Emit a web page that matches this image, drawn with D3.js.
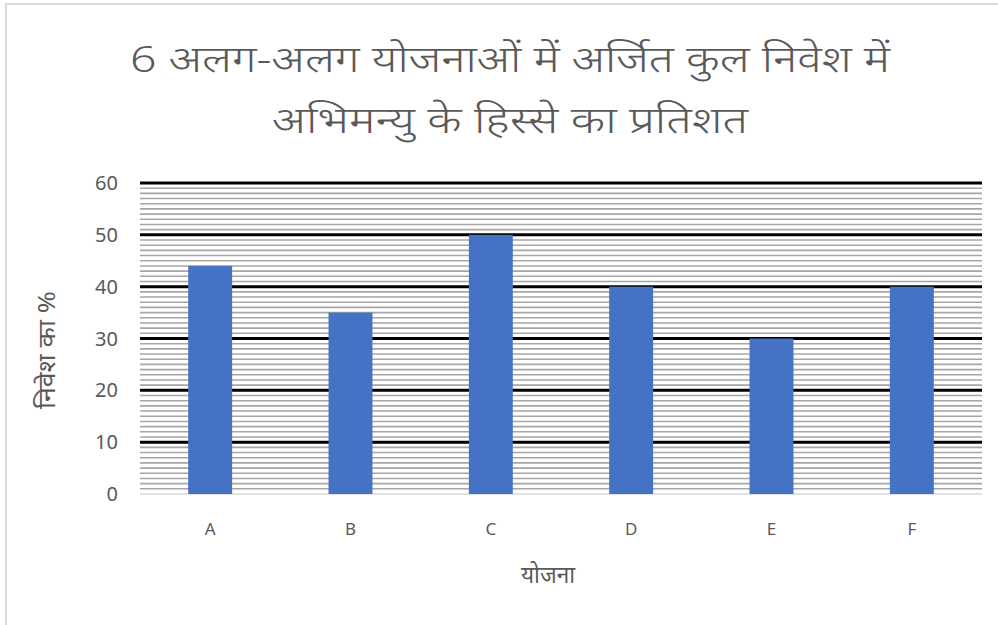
<!DOCTYPE html>
<html><head><meta charset="utf-8">
<script src="https://cdn.jsdelivr.net/npm/d3@7"></script>
<style>body{margin:0;background:#fff;} svg{display:block;}</style>
</head><body>
<script>
const categories = ["A","B","C","D","E","F"];
const values = [44,35,50,40,30,40];
const yTicks = [0,10,20,30,40,50,60];
const titleLines = ["6 अलग-अलग योजनाओं में अर्जित कुल निवेश में","अभिमन्यु के हिस्से का प्रतिशत"];
const xTitle = "योजना";
const yTitle = "निवेश का %";

const W=998,H=625;
const svg=d3.select("body").append("svg").attr("width",W).attr("height",H);
svg.append("rect").attr("x",6).attr("y",4).attr("width",W).attr("height",H).attr("fill","#fff").attr("stroke","#d9d9d9").attr("stroke-width",2);

const m={left:140,right:982,top:183,bottom:494};
const x=d3.scaleBand().domain(categories).range([m.left,m.right]).paddingInner(0.687).paddingOuter(0.3435);
const y=d3.scaleLinear().domain([0,60]).range([m.bottom,m.top]);

// minor gridlines
const minor=d3.range(1,60).filter(v=>v%10!==0);
svg.append("g").selectAll("line").data(minor).join("line")
  .attr("x1",m.left).attr("x2",m.right).attr("y1",d=>y(d)).attr("y2",d=>y(d))
  .attr("stroke","#a6a6a6").attr("stroke-width",1.6);
// major
svg.append("g").selectAll("line").data(yTicks.filter(d=>d>0)).join("line")
  .attr("x1",m.left).attr("x2",m.right).attr("y1",d=>y(d)).attr("y2",d=>y(d))
  .attr("stroke","#000").attr("stroke-width",3);
svg.append("line").attr("x1",m.left).attr("x2",m.right).attr("y1",y(0)).attr("y2",y(0)).attr("stroke","#d9d9d9").attr("stroke-width",1.5);

// bars
svg.append("g").selectAll("rect").data(categories).join("rect")
  .attr("x",d=>x(d)).attr("width",x.bandwidth())
  .attr("y",(d,i)=>y(values[i])).attr("height",(d,i)=>y(0)-y(values[i]))
  .attr("fill","#4472C4");

const font="'Noto Sans','Open Sans',sans-serif";
// y ticks
svg.append("g").selectAll("text").data(yTicks).join("text")
  .attr("x",118).attr("y",d=>y(d)).attr("dy","0.35em").attr("text-anchor","end")
  .attr("font-family",font).attr("font-size",20).attr("fill","#595959").text(d=>d);
// x labels
svg.append("g").selectAll("text").data(categories).join("text")
  .attr("x",d=>x(d)+x.bandwidth()/2).attr("y",535).attr("text-anchor","middle")
  .attr("font-family",font).attr("font-size",17).attr("fill","#595959").text(d=>d);

// titles
const tl=[{t:titleLines[0],y:72,w:760},{t:titleLines[1],y:133,w:476}];
svg.selectAll("text.title").data(tl).join("text").attr("class","title")
  .attr("x",510).attr("y",d=>d.y).attr("text-anchor","middle")
  .attr("font-family",font).attr("font-size",36).attr("font-weight",300).attr("fill","#595959")
  .attr("textLength",d=>d.w).attr("lengthAdjust","spacingAndGlyphs").text(d=>d.t);

svg.append("text").attr("x",548).attr("y",583).attr("text-anchor","middle")
  .attr("font-family",font).attr("font-size",24).attr("fill","#595959")
  .attr("textLength",54).attr("lengthAdjust","spacingAndGlyphs").text(xTitle);
svg.append("text").attr("transform","translate(55,350) rotate(-90)").attr("text-anchor","middle")
  .attr("font-family",font).attr("font-size",24).attr("fill","#595959")
  .attr("textLength",118).attr("lengthAdjust","spacingAndGlyphs").text(yTitle);
</script>
</body></html>
